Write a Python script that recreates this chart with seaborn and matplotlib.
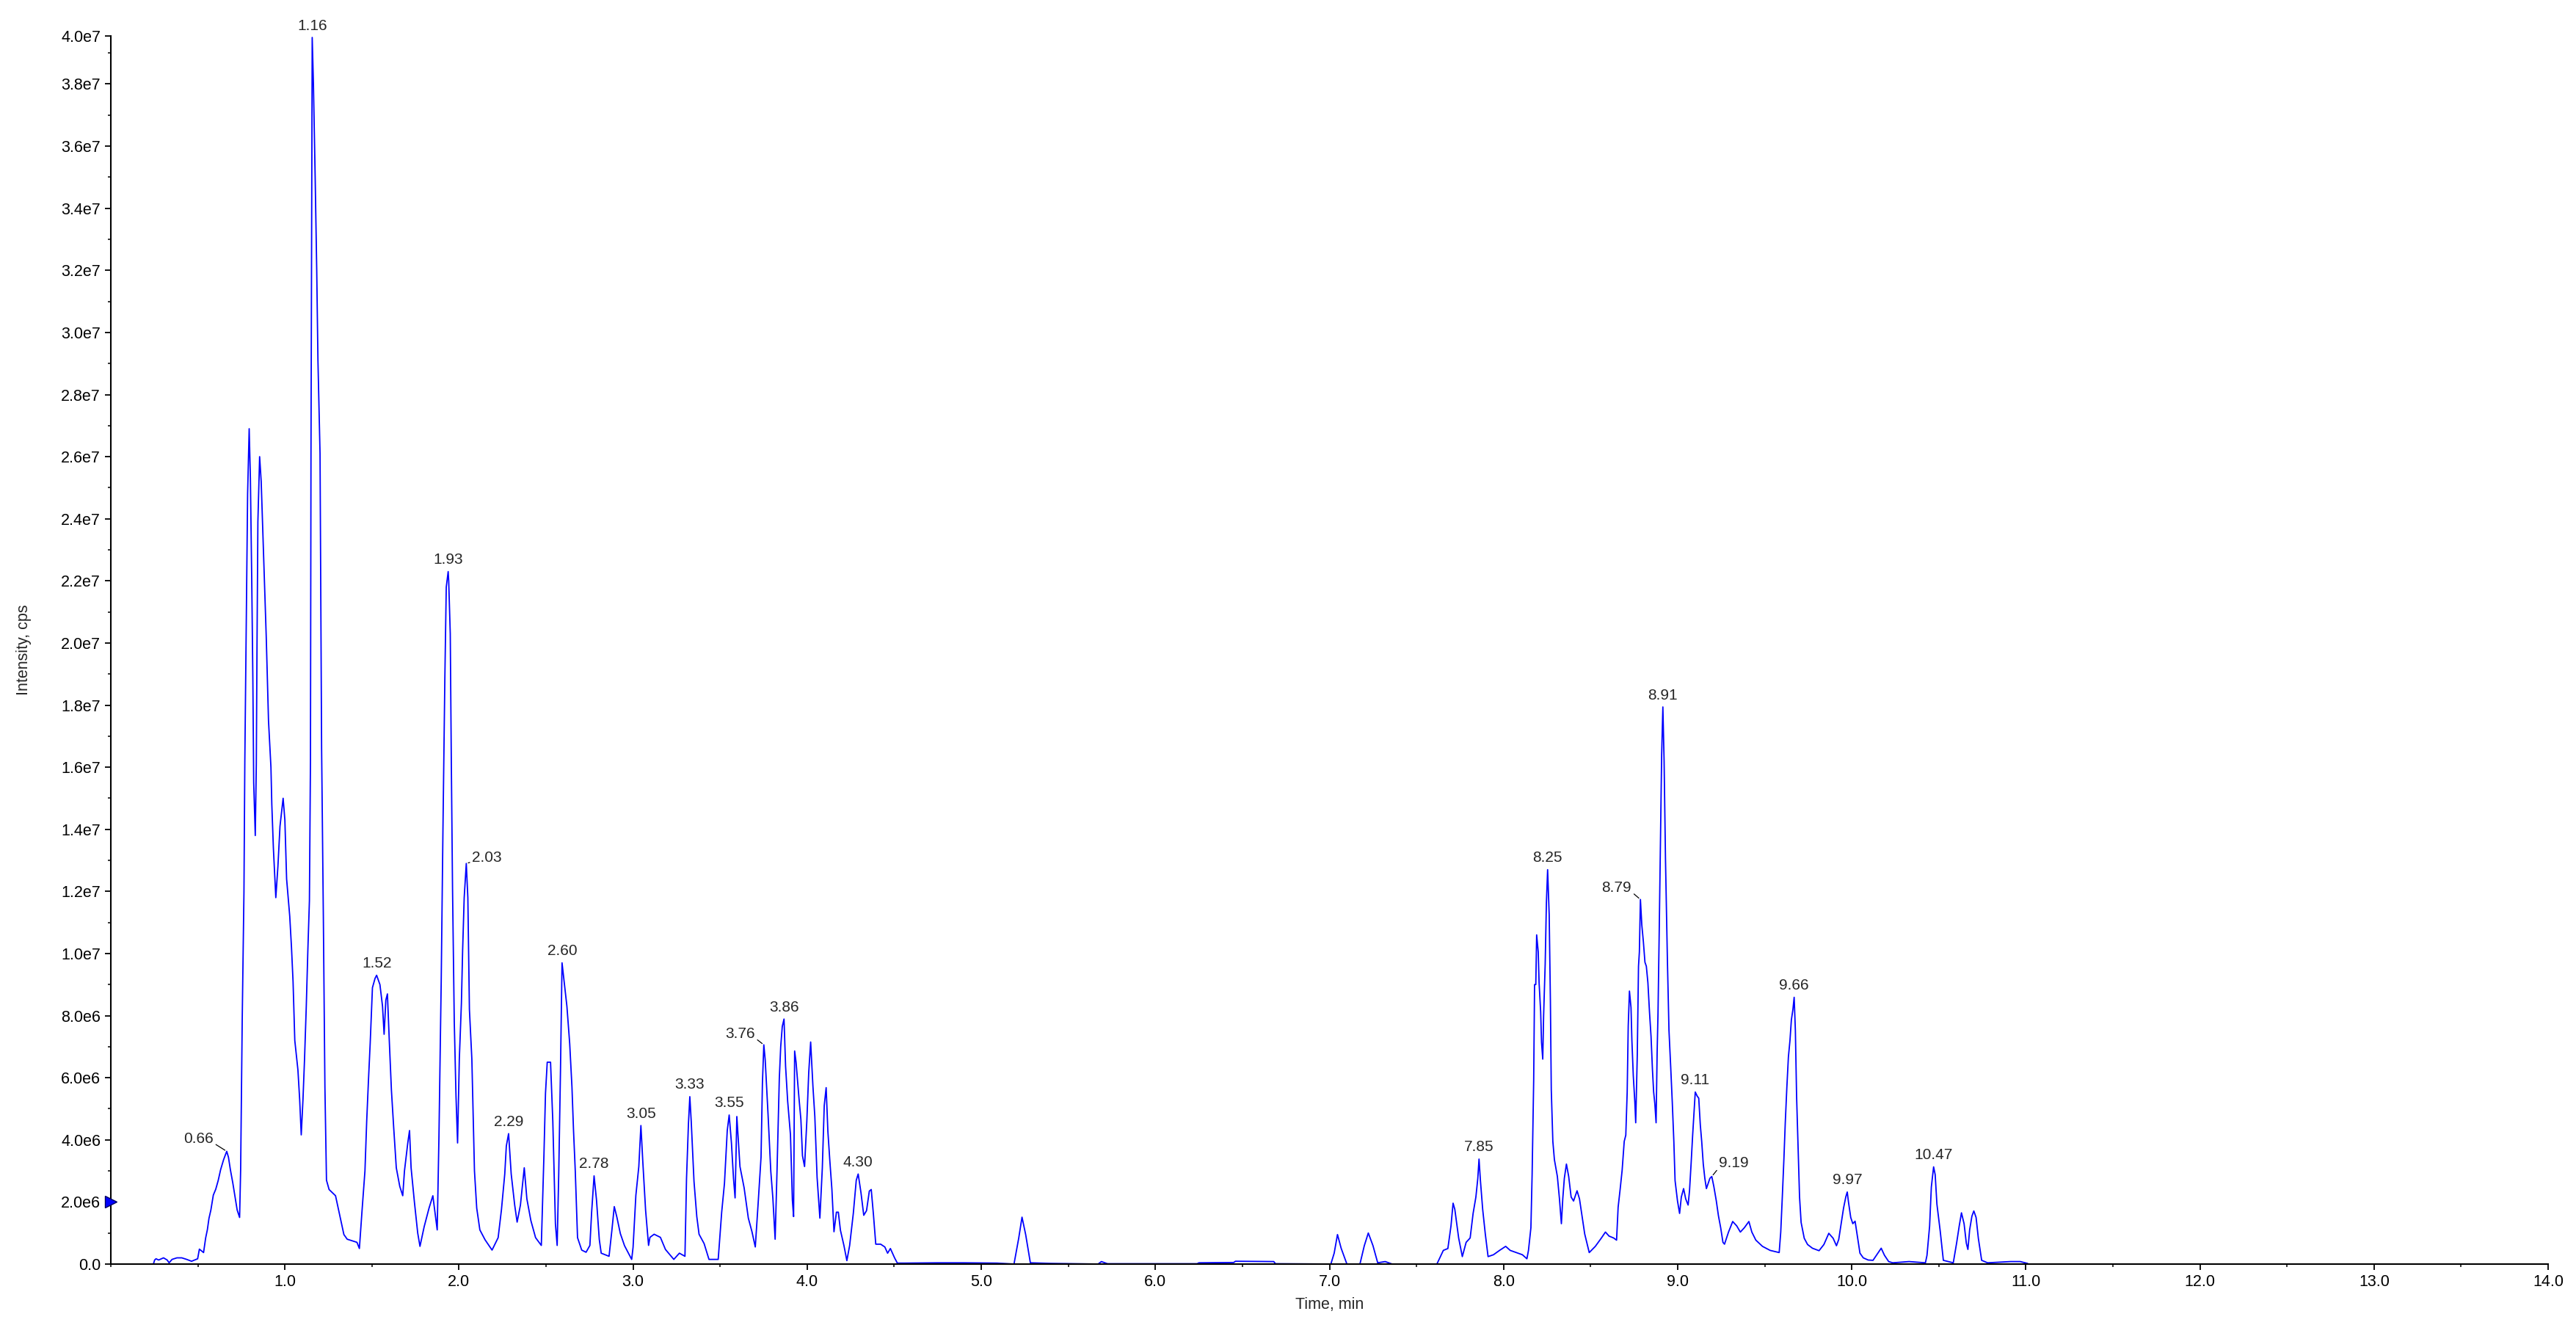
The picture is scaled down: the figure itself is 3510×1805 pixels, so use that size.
import numpy as np
import pandas as pd
import matplotlib
matplotlib.use("Agg")
import matplotlib.pyplot as plt
import seaborn as sns
from matplotlib.ticker import FuncFormatter, MultipleLocator

# TIC trace: retention time (min) and intensity (1e6 cps)
time_min = [
    0.245, 0.252, 0.26, 0.275, 0.303, 0.324, 0.335, 0.352, 0.38, 0.408, 0.436, 0.464, 0.499, 0.509,
    0.524, 0.533, 0.545, 0.555, 0.564, 0.575, 0.589, 0.603, 0.617, 0.631, 0.648, 0.666, 0.676, 0.687,
    0.701, 0.712, 0.726, 0.74, 0.746, 0.755, 0.765, 0.77, 0.778, 0.786, 0.795, 0.802, 0.81, 0.816,
    0.821, 0.83, 0.836, 0.84, 0.845, 0.855, 0.864, 0.874, 0.883, 0.893, 0.906, 0.92, 0.925, 0.934,
    0.948, 0.96, 0.972, 0.99, 1.0, 1.01, 1.028, 1.038, 1.047, 1.057, 1.075, 1.085, 1.094, 1.104,
    1.113, 1.123, 1.132, 1.141, 1.147, 1.15, 1.157, 1.164, 1.174, 1.183, 1.19, 1.202, 1.206, 1.211,
    1.221, 1.23, 1.239, 1.254, 1.291, 1.339, 1.358, 1.414, 1.428, 1.443, 1.46, 1.47, 1.48, 1.49,
    1.503, 1.518, 1.527, 1.546, 1.561, 1.57, 1.58, 1.589, 1.599, 1.612, 1.625, 1.64, 1.66, 1.677,
    1.687, 1.706, 1.716, 1.725, 1.744, 1.763, 1.776, 1.8, 1.828, 1.85, 1.866, 1.875, 1.885, 1.898,
    1.908, 1.919, 1.927, 1.938, 1.941, 1.95, 1.956, 1.963, 1.973, 1.983, 1.992, 2.002, 2.014, 2.021,
    2.03, 2.042, 2.051, 2.06, 2.074, 2.089, 2.102, 2.12, 2.15, 2.19, 2.225, 2.244, 2.263, 2.272,
    2.285, 2.3, 2.32, 2.334, 2.353, 2.375, 2.39, 2.413, 2.44, 2.473, 2.488, 2.497, 2.507, 2.526,
    2.539, 2.554, 2.564, 2.573, 2.583, 2.592, 2.606, 2.62, 2.636, 2.649, 2.658, 2.668, 2.681, 2.705,
    2.73, 2.752, 2.762, 2.776, 2.79, 2.806, 2.817, 2.862, 2.878, 2.892, 2.907, 2.927, 2.951, 2.992,
    3.0, 3.016, 3.033, 3.045, 3.056, 3.072, 3.089, 3.097, 3.121, 3.157, 3.186, 3.234, 3.266, 3.298,
    3.307, 3.318, 3.326, 3.334, 3.35, 3.366, 3.379, 3.408, 3.436, 3.489, 3.509, 3.525, 3.541, 3.552,
    3.565, 3.577, 3.586, 3.596, 3.614, 3.638, 3.662, 3.683, 3.702, 3.718, 3.735, 3.743, 3.751, 3.759,
    3.775, 3.791, 3.803, 3.816, 3.827, 3.84, 3.848, 3.857, 3.867, 3.876, 3.888, 3.904, 3.915, 3.922,
    3.928, 3.936, 3.953, 3.964, 3.973, 3.985, 3.998, 4.009, 4.02, 4.033, 4.044, 4.057, 4.073, 4.087,
    4.098, 4.109, 4.119, 4.13, 4.142, 4.154, 4.168, 4.179, 4.191, 4.211, 4.228, 4.244, 4.265, 4.282,
    4.293, 4.309, 4.325, 4.341, 4.357, 4.368, 4.381, 4.394, 4.422, 4.446, 4.462, 4.478, 4.502, 4.518,
    4.559, 4.75, 4.9, 5.09, 5.188, 5.215, 5.234, 5.255, 5.282, 5.4, 5.671, 5.69, 5.725, 6.24,
    6.25, 6.45, 6.46, 6.68, 6.69, 7.008, 7.027, 7.046, 7.067, 7.1, 7.175, 7.2, 7.223, 7.25,
    7.277, 7.32, 7.36, 7.617, 7.654, 7.68, 7.698, 7.71, 7.72, 7.742, 7.763, 7.785, 7.808, 7.825,
    7.841, 7.852, 7.859, 7.867, 7.88, 7.895, 7.911, 7.942, 7.977, 8.012, 8.038, 8.073, 8.108, 8.134,
    8.143, 8.157, 8.164, 8.173, 8.178, 8.185, 8.19, 8.199, 8.204, 8.213, 8.218, 8.225, 8.23, 8.239,
    8.246, 8.253, 8.262, 8.269, 8.274, 8.283, 8.292, 8.309, 8.321, 8.332, 8.34, 8.349, 8.361, 8.374,
    8.388, 8.402, 8.422, 8.436, 8.452, 8.466, 8.492, 8.527, 8.562, 8.585, 8.606, 8.632, 8.649, 8.658,
    8.67, 8.681, 8.693, 8.702, 8.71, 8.716, 8.723, 8.732, 8.737, 8.745, 8.754, 8.759, 8.768, 8.775,
    8.78, 8.786, 8.794, 8.803, 8.812, 8.82, 8.829, 8.838, 8.847, 8.855, 8.862, 8.869, 8.876, 8.882,
    8.887, 8.894, 8.901, 8.908, 8.915, 8.922, 8.93, 8.941, 8.95, 8.96, 8.969, 8.978, 8.985, 8.999,
    9.011, 9.021, 9.034, 9.046, 9.06, 9.068, 9.077, 9.086, 9.095, 9.101, 9.112, 9.121, 9.13, 9.138,
    9.147, 9.156, 9.165, 9.173, 9.185, 9.196, 9.208, 9.222, 9.234, 9.247, 9.26, 9.269, 9.292, 9.316,
    9.339, 9.36, 9.383, 9.409, 9.426, 9.449, 9.487, 9.531, 9.583, 9.592, 9.601, 9.61, 9.618, 9.627,
    9.636, 9.645, 9.653, 9.662, 9.669, 9.676, 9.683, 9.692, 9.7, 9.709, 9.727, 9.746, 9.774, 9.812,
    9.84, 9.868, 9.893, 9.912, 9.925, 9.94, 9.953, 9.966, 9.974, 9.981, 9.994, 10.006, 10.019, 10.034,
    10.047, 10.066, 10.094, 10.122, 10.15, 10.169, 10.188, 10.212, 10.235, 10.329, 10.423, 10.432, 10.447, 10.457,
    10.47, 10.479, 10.489, 10.508, 10.526, 10.583, 10.602, 10.617, 10.63, 10.645, 10.658, 10.667, 10.677, 10.69,
    10.701, 10.714, 10.727, 10.746, 10.78, 10.912, 10.968, 11.01,
]
intensity_mcps = [
    0.0, 0.13, 0.17, 0.13, 0.2, 0.13, 0.04, 0.15, 0.2, 0.2, 0.15, 0.09, 0.17, 0.48,
    0.41, 0.37, 0.84, 1.11, 1.47, 1.74, 2.22, 2.41, 2.69, 3.04, 3.36, 3.63, 3.44, 3.04,
    2.61, 2.22, 1.74, 1.5, 3.04, 7.85, 11.97, 16.2, 20.5, 24.8, 26.9, 25.3, 21.9, 18.9,
    15.5, 13.8, 16.1, 19.9, 23.9, 26.0, 25.2, 23.5, 21.9, 20.2, 17.5, 16.0, 14.8, 13.4,
    11.8, 12.8, 14.1, 15.0, 14.3, 12.4, 11.2, 10.2, 9.1, 7.2, 6.25, 5.3, 4.16, 5.3,
    6.6, 8.3, 10.1, 11.7, 16.2, 26.1, 39.5, 38.0, 35.0, 32.0, 29.1, 26.1, 21.9, 16.6,
    11.2, 5.7, 2.7, 2.4, 2.2, 0.95, 0.8, 0.7, 0.5, 1.7, 3.0, 4.6, 5.9, 7.1,
    8.9, 9.2, 9.3, 9.0, 8.3, 7.4, 8.5, 8.7, 7.3, 5.6, 4.4, 3.1, 2.5, 2.2,
    3.0, 3.9, 4.3, 3.1, 2.0, 1.0, 0.57, 1.2, 1.8, 2.2, 1.5, 1.1, 4.1, 9.1,
    14.0, 18.9, 21.8, 22.3, 22.0, 20.3, 16.2, 12.1, 7.8, 5.4, 3.9, 6.6, 8.4, 10.1,
    11.8, 12.9, 11.8, 8.2, 6.6, 3.0, 1.8, 1.1, 0.78, 0.45, 0.85, 1.75, 2.9, 3.8,
    4.2, 2.9, 1.9, 1.35, 1.9, 3.1, 2.1, 1.4, 0.85, 0.6, 3.5, 5.5, 6.5, 6.5,
    4.6, 1.3, 0.6, 2.9, 6.2, 9.7, 9.0, 8.3, 7.1, 5.7, 4.3, 3.0, 0.85, 0.45,
    0.38, 0.6, 1.67, 2.84, 2.06, 0.79, 0.35, 0.25, 1.07, 1.85, 1.51, 0.98, 0.59, 0.15,
    0.54, 2.21, 3.14, 4.46, 3.29, 1.73, 0.6, 0.86, 0.96, 0.86, 0.47, 0.15, 0.35, 0.25,
    2.75, 4.51, 5.39, 4.6, 2.66, 1.53, 0.96, 0.66, 0.15, 0.15, 1.67, 2.6, 4.3, 4.8,
    3.9, 2.75, 2.13, 4.75, 3.14, 2.45, 1.48, 1.04, 0.55, 1.92, 3.44, 5.83, 7.06, 6.57,
    4.85, 2.99, 2.12, 0.8, 3.04, 5.98, 7.0, 7.65, 7.89, 6.37, 5.24, 4.17, 2.06, 1.53,
    6.86, 6.51, 5.34, 4.65, 3.49, 3.14, 4.6, 6.17, 7.15, 5.73, 4.75, 2.79, 1.48, 3.09,
    5.1, 5.68, 4.27, 3.34, 2.41, 1.04, 1.67, 1.67, 1.09, 0.6, 0.11, 0.6, 1.63, 2.7,
    2.9, 2.3, 1.57, 1.72, 2.35, 2.4, 1.57, 0.64, 0.64, 0.55, 0.35, 0.5, 0.2, 0.03,
    0.03, 0.04, 0.04, 0.03, 0.0, 0.83, 1.51, 0.95, 0.04, 0.02, 0.0, 0.08, 0.01, 0.01,
    0.04, 0.05, 0.09, 0.08, 0.01, 0.0, 0.35, 0.95, 0.51, 0.0, 0.0, 0.59, 1.0, 0.59,
    0.04, 0.08, 0.0, 0.0, 0.44, 0.5, 1.23, 1.96, 1.76, 0.84, 0.24, 0.7, 0.84, 1.63,
    2.16, 2.76, 3.38, 2.69, 1.76, 0.97, 0.24, 0.3, 0.44, 0.57, 0.44, 0.37, 0.3, 0.17,
    0.44, 1.17, 2.89, 5.94, 9.0, 9.0, 10.6, 10.05, 9.06, 8.13, 7.14, 6.6, 8.0, 9.66,
    11.64, 12.7, 11.25, 8.46, 5.61, 3.95, 3.36, 2.82, 2.1, 1.3, 2.1, 2.76, 3.22, 2.82,
    2.16, 2.03, 2.36, 2.1, 1.5, 0.97, 0.37, 0.57, 0.84, 1.03, 0.9, 0.84, 0.77, 1.83,
    2.43, 3.02, 3.95, 4.15, 5.54, 7.67, 8.79, 8.26, 7.2, 6.07, 5.21, 4.55, 6.74, 9.59,
    10.05, 11.74, 10.92, 10.38, 9.72, 9.59, 9.06, 8.13, 7.33, 6.27, 5.54, 5.15, 4.55, 6.8,
    8.06, 10.72, 13.63, 16.4, 17.94, 16.2, 13.04, 9.79, 7.53, 6.34, 5.21, 3.95, 2.69, 2.03,
    1.63, 2.16, 2.43, 2.1, 1.9, 2.36, 3.22, 4.15, 5.01, 5.54, 5.41, 5.34, 4.48, 3.95,
    3.22, 2.76, 2.43, 2.56, 2.76, 2.82, 2.49, 2.03, 1.56, 1.17, 0.7, 0.64, 1.03, 1.37,
    1.23, 1.03, 1.17, 1.37, 1.03, 0.77, 0.57, 0.44, 0.37, 1.03, 2.16, 3.36, 4.55, 5.68,
    6.67, 7.2, 7.86, 8.2, 8.59, 7.53, 5.41, 3.69, 2.16, 1.34, 0.83, 0.63, 0.51, 0.43,
    0.63, 0.99, 0.83, 0.59, 0.79, 1.34, 1.81, 2.17, 2.32, 2.0, 1.5, 1.3, 1.38, 0.83,
    0.35, 0.2, 0.13, 0.12, 0.35, 0.51, 0.28, 0.08, 0.04, 0.08, 0.04, 0.28, 1.22, 2.48,
    3.13, 2.88, 1.93, 1.06, 0.12, 0.04, 0.67, 1.22, 1.65, 1.3, 0.67, 0.47, 1.1, 1.54,
    1.71, 1.5, 0.83, 0.12, 0.04, 0.08, 0.08, 0.02,
]

# apex labels printed above the peaks
peak_labels = ["0.66", "1.16", "1.52", "1.93", "2.03", "2.29", "2.60", "2.78", "3.05", "3.33",
               "3.55", "3.76", "3.86", "4.30", "7.85", "8.25", "8.79", "8.91", "9.11", "9.19",
               "9.66", "9.97", "10.47"]
# labels that sit beside the apex with a short leader line
leader_labels = {"0.66": (-18, 17, "right"), "2.03": (8, 8, "left"), "3.76": (-12, 15, "right"),
                 "8.79": (-12, 16, "right"), "9.19": (10, 18, "left")}

df = pd.DataFrame({"time": time_min, "intensity": np.array(intensity_mcps) * 1e6})

sns.set_style("ticks")
plt.rcParams["font.family"] = ["Liberation Sans", "DejaVu Sans"]

fig = plt.figure(figsize=(35.1, 18.05), dpi=100)
ax = fig.add_axes([0.0430, 0.0460, 0.9462, 0.9269])

sns.lineplot(data=df, x="time", y="intensity", ax=ax, color="#0000ff",
             linewidth=1.3, estimator=None, sort=False)

y_top = 3.955e7
ax.set_xlim(0, 14.0)
ax.set_ylim(0, y_top)

ax.xaxis.set_major_locator(MultipleLocator(1.0))
ax.xaxis.set_minor_locator(MultipleLocator(0.5))
ax.set_xticks(np.arange(1, 15, 1.0))
ax.set_xticklabels([f"{v:.1f}" for v in np.arange(1, 15, 1.0)])
ax.set_yticks(list(np.arange(0, 3.9e7, 2e6)) + [y_top])
ax.yaxis.set_minor_locator(MultipleLocator(1e6))


def sci_fmt(v, pos=None):
    if v == 0:
        return "0.0"
    e = int(np.floor(np.log10(v)))
    return f"{v / 10 ** e:.1f}e{e}"


ax.yaxis.set_major_formatter(FuncFormatter(sci_fmt))

ax.tick_params(axis="both", which="major", length=5.5, width=1.3, labelsize=15.5,
               direction="out", pad=4.5, colors="black")
ax.tick_params(axis="both", which="minor", length=2.6, width=1.3, direction="out")

for side in ["top", "right"]:
    ax.spines[side].set_visible(False)
for side in ["left", "bottom"]:
    ax.spines[side].set_linewidth(1.5)
    ax.spines[side].set_color("black")

ax.set_xlabel("Time, min", fontsize=15.5)
ax.set_ylabel("Intensity, cps", fontsize=15.5)
ax.xaxis.set_label_coords(0.5, -0.027)
ax.yaxis.set_label_coords(-0.0325, 0.5)

# peak labels at the local apex
t_arr = np.array(time_min)
i_arr = np.array(intensity_mcps) * 1e6
for lab in peak_labels:
    rt = float(lab)
    win = np.abs(t_arr - rt) <= 0.02
    idx = np.where(win)[0][np.argmax(i_arr[win])]
    xy = (t_arr[idx], i_arr[idx])
    if lab in leader_labels:
        dx, dy, ha = leader_labels[lab]
        ax.annotate(lab, xy=xy, xytext=(dx, dy), textcoords="offset pixels",
                    ha=ha, va="center", fontsize=15, annotation_clip=False,
                    arrowprops=dict(arrowstyle="-", color="black", lw=0.9,
                                    shrinkA=0, shrinkB=2,
                                    relpos=(1.0, 0.2) if ha == "right" else (0.0, 0.2)))
    else:
        ax.annotate(lab, xy=xy, xytext=(0, 16), textcoords="offset pixels",
                    ha="center", va="center", fontsize=15, annotation_clip=False)

# threshold marker on the intensity axis
ax.plot([0], [2e6], marker=">", markersize=11, color="#0000ff", markeredgecolor="#000060",
        transform=ax.get_yaxis_transform(), clip_on=False, zorder=5)

fig.savefig("out.png", dpi=100)
